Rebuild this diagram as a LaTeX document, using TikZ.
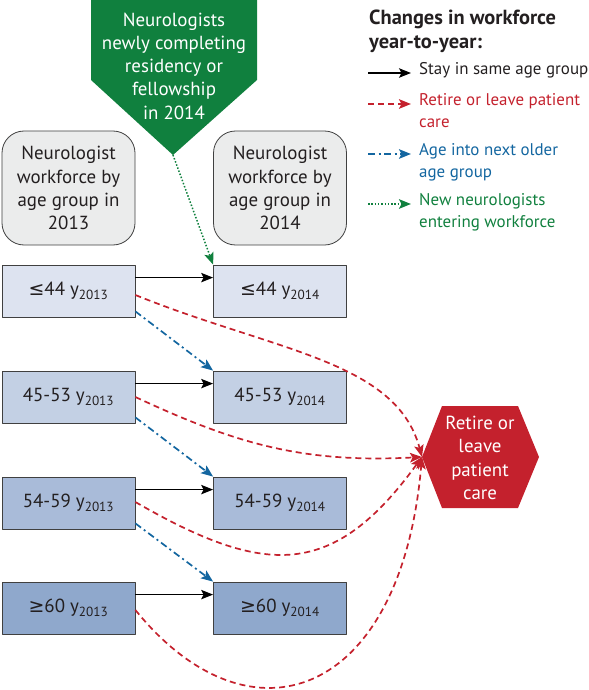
\documentclass[tikz,border=0pt]{standalone}
\usepackage{fontspec}
\setmainfont{PT Sans}
\newfontfamily\symfont{DejaVu Sans}
\usetikzlibrary{arrows.meta}

\definecolor{txtcol}{RGB}{35,31,32}
\definecolor{newgreen}{RGB}{16,128,62}
\definecolor{retred}{RGB}{196,33,45}
\definecolor{ageblue}{RGB}{19,102,160}
\definecolor{headgray}{RGB}{235,236,236}
\definecolor{rowA}{RGB}{221,227,240}
\definecolor{rowB}{RGB}{195,208,228}
\definecolor{rowC}{RGB}{169,187,217}
\definecolor{rowD}{RGB}{143,168,204}

\begin{document}
\begin{tikzpicture}[
  x = 1bp, y = 1bp,
  line join=round,
  font=\fontsize{19}{23.3}\selectfont, text=txtcol,
  headbox/.style={draw=black!75, fill=headgray, rounded corners=22bp,
    minimum width=133bp, minimum height=114bp, align=center, line width=0.8bp},
  agebox/.style={draw=black!75, minimum width=133bp, minimum height=52bp,
    line width=0.8bp},
  tip/.style={-{Stealth[length=12bp,width=9.5bp,inset=2.5bp]}},
  stayarrow/.style={tip, black, line width=1.1bp},
  retarrow/.style={tip, retred, line width=1.7bp, dash pattern=on 6bp off 4bp},
  agearrow/.style={tip, ageblue, line width=1.7bp,
    dash pattern=on 7bp off 3.5bp on 2bp off 3.5bp},
  newarrow/.style={tip, newgreen, line width=1.5bp, dash pattern=on 1.5bp off 1.8bp},
  legtxt/.style={anchor=north west, align=left, inner sep=0pt,
    font=\fontsize{17}{22}\selectfont}
]
  \useasboundingbox (0,0) rectangle (589,-690);
  \def\xL{68.5} \def\xR{280}

  % new neurologists
  \fill[newgreen] (91,0) -- (257,0) -- (257,-80) -- (173,-155) -- (91,-80) -- cycle;
  \coordinate (newtip) at (173,-155);
  \node[text=white, align=center] (newtxt) at (174,-66)
    {Neurologists\\newly completing\\residency or\\fellowship\\in 2014};

  % column heads
  \node[headbox] (h13) at (\xL,-188) {Neurologist\\workforce by\\age group in\\2013};
  \node[headbox] (h14) at (\xR,-188) {Neurologist\\workforce by\\age group in\\2014};

  % age groups
  \node[agebox, fill=rowA] (a1) at (\xL,-291) {{\symfont ≤}44 y\textsubscript{2013}};
  \node[agebox, fill=rowA] (b1) at (\xR,-291) {{\symfont ≤}44 y\textsubscript{2014}};
  \node[agebox, fill=rowB] (a2) at (\xL,-397) {45-53 y\textsubscript{2013}};
  \node[agebox, fill=rowB] (b2) at (\xR,-397) {45-53 y\textsubscript{2014}};
  \node[agebox, fill=rowC] (a3) at (\xL,-503) {54-59 y\textsubscript{2013}};
  \node[agebox, fill=rowC] (b3) at (\xR,-503) {54-59 y\textsubscript{2014}};
  \node[agebox, fill=rowD] (a4) at (\xL,-608) {{\symfont ≥}60 y\textsubscript{2013}};
  \node[agebox, fill=rowD] (b4) at (\xR,-608) {{\symfont ≥}60 y\textsubscript{2014}};

  % retire
  \fill[retred] (422,-457) -- (442,-406) -- (518,-406) -- (539,-457)
    -- (518,-508) -- (442,-508) -- cycle;
  \coordinate (retwest) at (422,-457);
  \node[text=white, align=center] (retire) at (480,-458)
    {Retire or\\leave\\patient\\care};

  % stay
  \foreach \i in {1,...,4}
    \draw[stayarrow] ([yshift=-13bp]a\i.north east) -- ([yshift=-13bp]b\i.north west);

  % age into next group
  \foreach \i/\j in {1/2,2/3,3/4}
    \draw[agearrow] ([yshift=6bp]a\i.south east) -- (b\j.north west);

  % retire or leave
  \draw[retarrow] ([yshift=-4bp]a1.east)
    to[out=-22, in=105, out distance=150bp, in distance=100bp] (retwest);
  \draw[retarrow] (a2.east)
    to[out=-25, in=183, out distance=110bp, in distance=120bp] (retwest);
  \draw[retarrow] ([yshift=1bp]a3.east)
    to[out=-30, in=234, out distance=150bp, in distance=151bp] (retwest);
  \draw[retarrow] ([yshift=-2bp]a4.east)
    to[out=-51, in=265, out distance=181bp, in distance=244bp] (retwest);

  % new entrants
  \draw[newarrow] (newtip) -- (b1.north west);

  % legend
  \node[anchor=north west, align=left, inner sep=0pt, font=\fontsize{20.5}{24}\selectfont\bfseries]
    (legtitle) at (369,-10) {Changes in workforce\\year-to-year:};
  \node[legtxt] (l1) at (419,-62) {Stay in same age group};
  \node[legtxt, text=retred] (l2) at (419,-93) {Retire or leave patient\\care};
  \node[legtxt, text=ageblue] (l3) at (419,-143) {Age into next older\\age group};
  \node[legtxt, text=newgreen] (l4) at (419,-193) {New neurologists\\entering workforce};
  \coordinate (s1) at (368,-73);
  \coordinate (s2) at (368,-104);
  \coordinate (s3) at (368,-154);
  \coordinate (s4) at (368,-204);
  \draw[stayarrow] (s1) -- ([xshift=-8bp]s1 -| l1.west);
  \draw[retarrow] (s2) -- ([xshift=-8bp]s2 -| l2.west);
  \draw[agearrow] (s3) -- ([xshift=-8bp]s3 -| l3.west);
  \draw[newarrow] (s4) -- ([xshift=-8bp]s4 -| l4.west);
\end{tikzpicture}
\end{document}
